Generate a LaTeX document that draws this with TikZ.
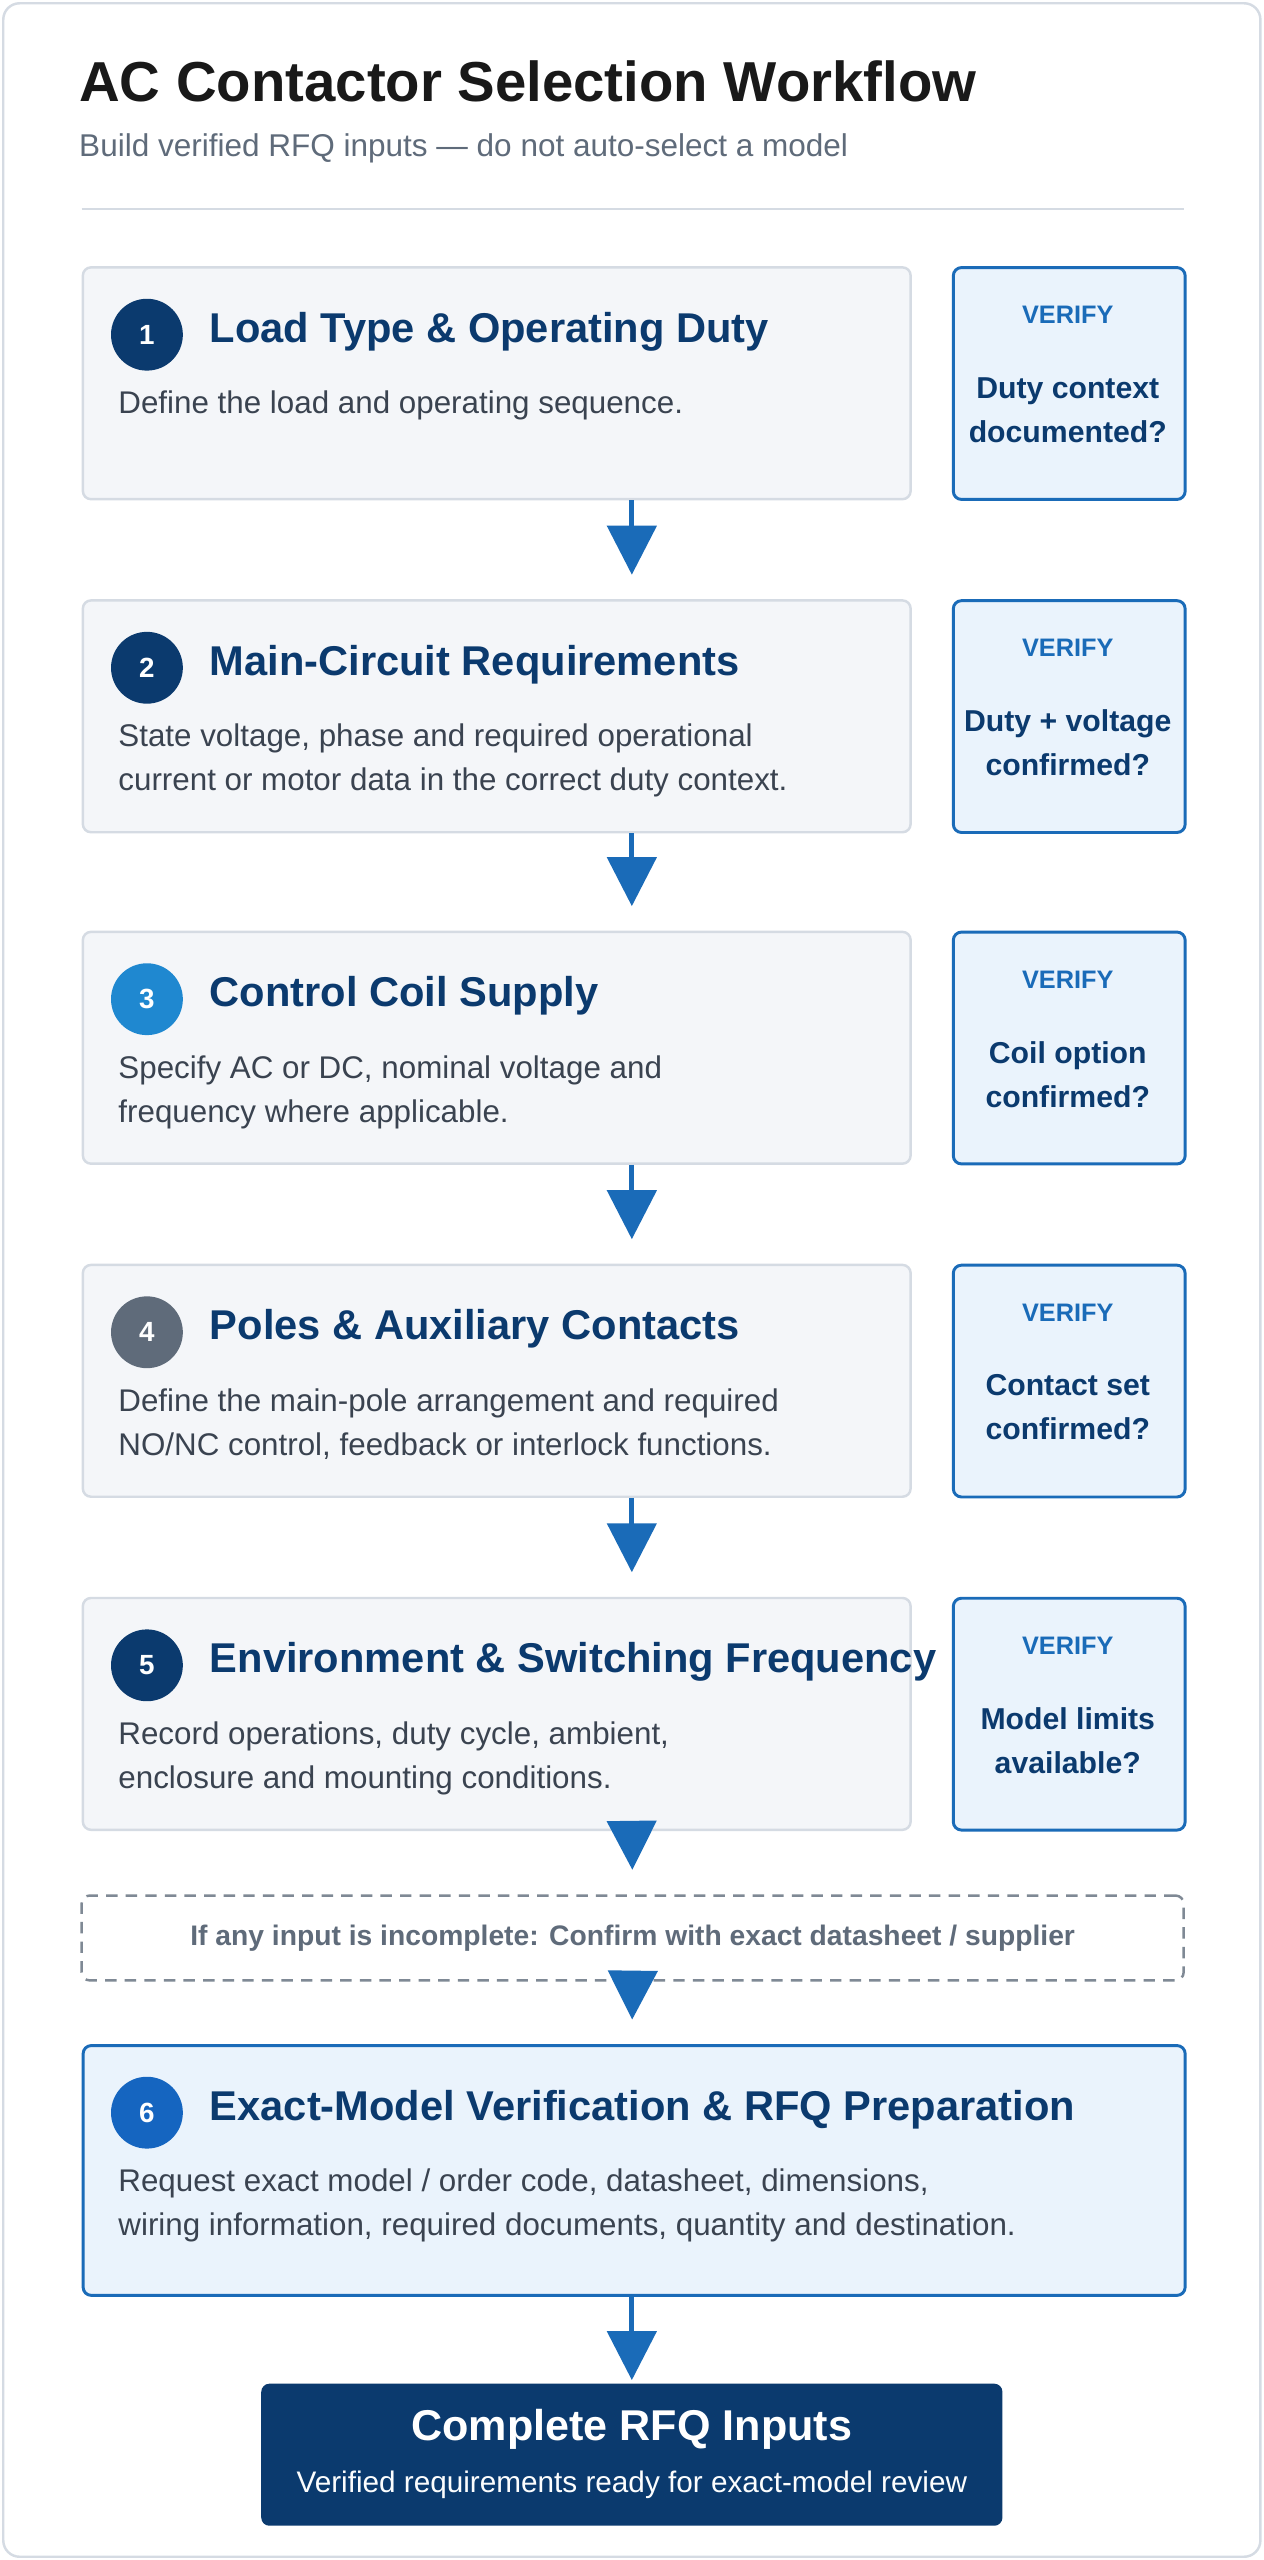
\documentclass[tikz,border=0pt]{standalone}
\usepackage{fontspec}
\setmainfont{Liberation Sans}
\usetikzlibrary{arrows.meta,positioning}
\definecolor{navy}{HTML}{0B3A6E}
\definecolor{sky}{HTML}{1F88D0}
\definecolor{slate}{HTML}{5F6B7A}
\definecolor{mid}{HTML}{1565C0}
\definecolor{flow}{HTML}{1A6BB8}
\definecolor{panel}{HTML}{F4F6F9}
\definecolor{edge}{HTML}{D5DBE3}
\definecolor{pale}{HTML}{EAF3FC}
\definecolor{ink}{HTML}{3A4350}
\begin{document}
\begin{tikzpicture}[x=1pt,y=-1pt,
  StepBox/.style={draw=edge,line width=1.5pt,fill=panel,rounded corners=5pt,anchor=north west,minimum width=507pt,minimum height=142pt},
  CheckBox/.style={draw=flow,line width=1.8pt,fill=pale,rounded corners=5pt,anchor=north west,minimum width=142pt,minimum height=142pt},
  Num/.style={circle,minimum size=44pt,inner sep=0pt,text=white,font=\bfseries\fontsize{17}{19}\selectfont},
  Head/.style={anchor=west,text=navy,font=\bfseries\fontsize{25.5}{28}\selectfont},
  Body/.style={anchor=north west,text=ink,align=left,font=\fontsize{19.2}{27}\selectfont},
  Tag/.style={text=flow,font=\bfseries\fontsize{15.5}{17}\selectfont},
  Ask/.style={text=navy,align=center,font=\bfseries\fontsize{18.5}{27}\selectfont},
  Flow/.style={draw=flow,line width=3pt,-{Triangle[width=30pt,length=30pt]}}]
\useasboundingbox (0,0) rectangle (774,1568);
\draw[edge,line width=1.5pt,fill=white,rounded corners=10pt] (2,2) rectangle (772,1566);
% title
\node[anchor=west,text=black!90,font=\bfseries\fontsize{34.5}{38}\selectfont] (title) at (45,50) {AC Contactor Selection Workflow};
\node[anchor=west,text=slate,font=\fontsize{19.3}{22}\selectfont] (sub) at (45,91) {Build verified RFQ inputs — do not auto-select a model};
\draw[edge,line width=1.5pt] (50,128) -- (725,128);
% steps
\foreach \i/\y/\c/\h/\t/\q in {
 1/163/navy/{Load Type \& Operating Duty}/{Define the load and operating sequence.}/{Duty context\\documented?},
 2/367/navy/{Main-Circuit Requirements}/{State voltage, phase and required operational\\current or motor data in the correct duty context.}/{Duty + voltage\\confirmed?},
 3/570/sky/{Control Coil Supply}/{Specify AC or DC, nominal voltage and\\frequency where applicable.}/{Coil option\\confirmed?},
 4/774/slate/{Poles \& Auxiliary Contacts}/{Define the main-pole arrangement and required\\NO/NC control, feedback or interlock functions.}/{Contact set\\confirmed?},
 5/978/navy/{Environment \& Switching Frequency}/{Record operations, duty cycle, ambient,\\enclosure and mounting conditions.}/{Model limits\\available?}} {
  \node[StepBox] (s\i) at (50,\y) {};
  \node[Num,fill=\c] (n\i) at (90,\y+42) {\i};
  \node[Head] (h\i) at (125,\y+40) {\h};
  \node[Body] (b\i) at (69,\y+73) {\t};
  \node[CheckBox] (v\i) at (583,\y) {};
  \node[Tag] (g\i) at (654,\y+30) {VERIFY};
  \node[Ask] (a\i) at (654,\y+88) {\q};
}
% note
\node[draw=slate!80,dashed,dash pattern=on 7pt off 5pt,line width=1.5pt,rounded corners=5pt,minimum width=675pt,minimum height=52pt,text=slate,font=\bfseries\fontsize{17.3}{20}\selectfont] (note) at (387.5,1187) {If any input is incomplete: Confirm with exact datasheet / supplier};
% step 6
\node[draw=flow,line width=1.8pt,fill=pale,rounded corners=5pt,anchor=north west,minimum width=675pt,minimum height=153pt] (s6) at (50,1252) {};
\node[Num,fill=mid] (n6) at (90,1294) {6};
\node[Head] (h6) at (125,1292) {Exact-Model Verification \& RFQ Preparation};
\node[Body] (b6) at (69,1325) {Request exact model / order code, datasheet, dimensions,\\wiring information, required documents, quantity and destination.};
% result
\node[fill=navy,rounded corners=5pt,minimum width=454pt,minimum height=87pt] (done) at (387,1503.5) {};
\node[text=white,font=\bfseries\fontsize{26.4}{29}\selectfont] (dh) at (387,1488) {Complete RFQ Inputs};
\node[text=white!85!pale,font=\fontsize{18.2}{21}\selectfont] (dt) at (387,1522) {Verified requirements ready for exact-model review};
% connectors
\foreach \a/\b in {1/2,2/3,3/4,4/5}
  \draw[Flow,shorten >=15pt] (s\a.south -| 387,0) -- (s\b.north -| 387,0);
\draw[Flow,shorten >=15pt] (s5.south -| 387,0) -- (note.north);
\draw[Flow,shorten >=15pt] (note.south) -- (s6.north -| 387,0);
\draw[Flow,shorten >=2pt] (s6.south -| 387,0) -- (done.north);
\end{tikzpicture}
\end{document}
